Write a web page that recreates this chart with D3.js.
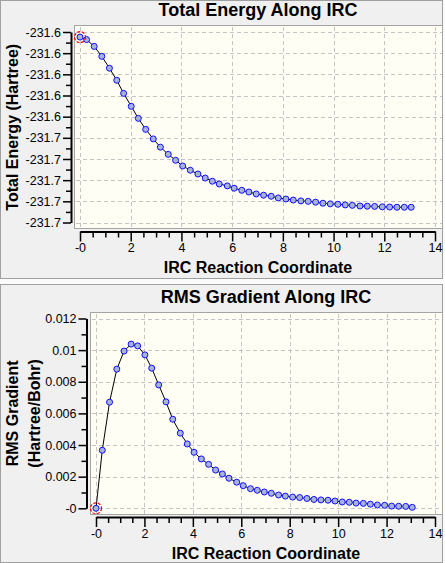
<!DOCTYPE html>
<html>
<head>
<meta charset="utf-8">
<script src="https://cdn.jsdelivr.net/npm/d3@7"></script>
<style>
    html, body { margin: 0; padding: 0; background: #fbfbfb; }
    svg { display: block; font-family: "Liberation Sans", Arial, sans-serif; }
</style>
</head>
<body>
<div id="chart"></div>
<script>
// IRC reaction coordinate of every point (shared by both plots)
const ircCoord = [
    0.00, 0.26, 0.56, 0.86, 1.16, 1.45, 1.72, 2.02, 2.30, 2.59,
    2.89, 3.17, 3.48, 3.77, 4.05, 4.35, 4.65, 4.94, 5.22, 5.49,
    5.81, 6.08, 6.38, 6.66, 6.95, 7.24, 7.54, 7.82, 8.12, 8.41,
    8.71, 9.00, 9.29, 9.58, 9.87, 10.17, 10.46, 10.74, 11.04, 11.33,
    11.62, 11.92, 12.21, 12.50, 12.79, 13.06
];
// Total energy (Hartree)
const totalEnergy = [
    -231.6024, -231.6036, -231.6068, -231.6115, -231.6171, -231.6228, -231.6290, -231.6351, -231.6408, -231.6460,
    -231.6505, -231.6544, -231.6578, -231.6606, -231.6633, -231.6653, -231.6671, -231.6690, -231.6705, -231.6718,
    -231.6727, -231.6738, -231.6748, -231.6756, -231.6765, -231.6771, -231.6776, -231.6784, -231.6789, -231.6794,
    -231.6798, -231.6800, -231.6804, -231.6809, -231.6812, -231.6814, -231.6817, -231.6819, -231.6822, -231.6823,
    -231.6824, -231.6826, -231.6827, -231.6828, -231.6828, -231.6828
];
// RMS gradient (Hartree/Bohr)
const rmsGradient = [
    0.00000, 0.00367, 0.00671, 0.00880, 0.00994, 0.01038, 0.01027, 0.00970, 0.00886, 0.00780,
    0.00673, 0.00563, 0.00475, 0.00407, 0.00354, 0.00312, 0.00278, 0.00242, 0.00217, 0.00190,
    0.00165, 0.00143, 0.00124, 0.00114, 0.00103, 0.00095, 0.00084, 0.00077, 0.00071, 0.00068,
    0.00062, 0.00056, 0.00053, 0.00051, 0.00046, 0.00040, 0.00038, 0.00033, 0.00031, 0.00026,
    0.00021, 0.00019, 0.00014, 0.00013, 0.00012, 0.00006
];

// Tick values and labels
const coordTicks = [0, 2, 4, 6, 8, 10, 12, 14];
const coordTickLabels = ["-0", "2", "4", "6", "8", "10", "12", "14"];
const energyTicks = [-231.60, -231.61, -231.62, -231.63, -231.64, -231.65, -231.66, -231.67, -231.68, -231.69];
const energyTickLabels = ["-231.6", "-231.6", "-231.6", "-231.6", "-231.6", "-231.7", "-231.7", "-231.7", "-231.7", "-231.7"];
const gradientTicks = [0, 0.002, 0.004, 0.006, 0.008, 0.010, 0.012];
const gradientTickLabels = ["-0", "0.002", "0.004", "0.006", "0.008", "0.01", "0.012"];

const ircPlots = (
    function() {

        // Constants
        const width = 445;
        const height = 563;
        const panelBg = "#f0f0f0";
        const plotBg = "#fefef4";
        const gridColor = "#c4c4c4";
        const markerFill = "#a9b3d6";
        const markerStroke = "#1010ff";

        const midpoints = function(ticks) {
            return ticks.slice(1).map((t, i) => (t + ticks[i]) / 2);
        }

        const drawAxisStyle = function(g, lineWidth, tickWidth) {
            g.select(".domain").attr("stroke", "#000").attr("stroke-width", lineWidth);
            g.selectAll(".tick line").attr("stroke", "#000").attr("stroke-width", tickWidth);
            g.selectAll(".tick text")
                .attr("fill", "#000")
                .style("font-size", "12.5px");
        }

        /**
         * Draws one GaussView-like panel: title, plot box, grid,
         * axes and the line of points.
         */
        const drawPanel = function(svg, cfg) {
            const g = svg.append("g");

            // panel background
            g.append("rect")
                .attr("x", 0.5).attr("y", cfg.panel[0] + 0.5)
                .attr("width", 442).attr("height", cfg.panel[1] - cfg.panel[0])
                .attr("fill", panelBg)
                .attr("stroke", "#a0a0a0");

            const box = cfg.box;
            const xScale = d3.scaleLinear()
                .domain([0, 14])
                .range(cfg.xRange);
            const yScale = d3.scaleLinear()
                .domain(cfg.yDomain)
                .range(cfg.yRange);

            // plot box
            g.append("rect")
                .attr("x", box.left + 0.5).attr("y", box.top + 0.5)
                .attr("width", box.right - box.left).attr("height", box.bottom - box.top)
                .attr("fill", plotBg)
                .attr("stroke", "#a4a4a4");

            // grid
            const grid = g.append("g")
                .attr("stroke", gridColor)
                .attr("stroke-width", 1)
                .attr("stroke-dasharray", "4,3");
            grid.selectAll(".vgrid")
                .data(coordTicks)
                .join("line")
                .attr("x1", d => Math.round(xScale(d)) + 0.5)
                .attr("x2", d => Math.round(xScale(d)) + 0.5)
                .attr("y1", box.top + 2)
                .attr("y2", box.bottom);
            grid.selectAll(".hgrid")
                .data(cfg.yTicks)
                .join("line")
                .attr("x1", box.left + 2)
                .attr("x2", box.right)
                .attr("y1", d => Math.round(yScale(d)) + 0.5)
                .attr("y2", d => Math.round(yScale(d)) + 0.5);

            // title
            g.append("text")
                .attr("x", (box.left + box.right) / 2)
                .attr("y", cfg.titleY)
                .attr("text-anchor", "middle")
                .style("font-size", "18px")
                .style("font-weight", "bold")
                .text(cfg.title);

            // x axis (minor, then major)
            g.append("g")
                .attr("transform", `translate(0,${cfg.xAxisY})`)
                .call(d3.axisBottom(xScale)
                    .tickValues(d3.range(0.5, 14, 0.5).filter(v => v % 2 !== 0))
                    .tickSize(6).tickSizeOuter(0).tickFormat(""))
                .call(a => a.select(".domain").remove())
                .call(a => drawAxisStyle(a, 2, 1.5));
            g.append("g")
                .attr("transform", `translate(0,${cfg.xAxisY})`)
                .call(d3.axisBottom(xScale)
                    .tickValues(coordTicks)
                    .tickSize(10).tickSizeOuter(0).tickPadding(2)
                    .tickFormat((d, i) => coordTickLabels[i]))
                .call(a => drawAxisStyle(a, 2, 1.5));

            // y axis (minor, then major)
            g.append("g")
                .attr("transform", `translate(${cfg.yAxisX},0)`)
                .call(d3.axisLeft(yScale)
                    .tickValues(midpoints(cfg.yTicks))
                    .tickSize(5).tickSizeOuter(0).tickFormat(""))
                .call(a => a.select(".domain").remove())
                .call(a => drawAxisStyle(a, 2, 1.5));
            g.append("g")
                .attr("transform", `translate(${cfg.yAxisX},0)`)
                .call(d3.axisLeft(yScale)
                    .tickValues(cfg.yTicks)
                    .tickSize(8).tickSizeOuter(0).tickPadding(2)
                    .tickFormat((d, i) => cfg.yTickLabels[i]))
                .call(a => drawAxisStyle(a, 2, 1.5));

            // x axis title
            g.append("text")
                .attr("x", (box.left + box.right) / 2)
                .attr("y", cfg.xTitleY)
                .attr("text-anchor", "middle")
                .style("font-size", "16px")
                .style("font-weight", "bold")
                .text("IRC Reaction Coordinate");

            // y axis title (one or two lines)
            const yMid = (cfg.yRange[0] + cfg.yRange[1]) / 2;
            cfg.yTitle.forEach((line, i) => {
                g.append("text")
                    .attr("transform", `translate(${cfg.yTitleX[i]},${yMid}) rotate(-90)`)
                    .attr("text-anchor", "middle")
                    .style("font-size", "16px")
                    .style("font-weight", "bold")
                    .text(line);
            });

            // data line
            const points = ircCoord.map((x, i) => ({x: x, y: cfg.values[i]}));
            g.append("path")
                .datum(points)
                .attr("fill", "none")
                .attr("stroke", "#000")
                .attr("stroke-width", 1)
                .attr("d", d3.line()
                    .x(d => xScale(d.x))
                    .y(d => yScale(d.y))
                );
            g.selectAll(".marker")
                .data(points)
                .join("circle")
                .attr("cx", d => xScale(d.x))
                .attr("cy", d => yScale(d.y))
                .attr("r", 3)
                .attr("fill", markerFill)
                .attr("stroke", markerStroke)
                .attr("stroke-width", 1);

            // current point highlight
            g.append("circle")
                .attr("cx", xScale(points[0].x))
                .attr("cy", yScale(points[0].y))
                .attr("r", 5.5)
                .attr("fill", "none")
                .attr("stroke", "#ff0000")
                .attr("stroke-width", 1.2)
                .attr("stroke-dasharray", "3,1.5");
        }

        const render = function() {
            const svg = d3.select("#chart")
                .append("svg")
                .attr("width", width)
                .attr("height", height)
                .attr("viewBox", `0 0 ${width} ${height}`);

            drawPanel(svg, {
                panel: [0, 278],
                box: {left: 74, top: 25, right: 442, bottom: 228},
                xRange: [80, 435],
                xAxisY: 231.5,
                yAxisX: 71,
                yDomain: [energyTicks[energyTicks.length - 1], energyTicks[0]],
                yRange: [222.5, 32],
                yTicks: energyTicks,
                yTickLabels: energyTickLabels,
                values: totalEnergy,
                title: "Total Energy Along IRC",
                titleY: 16,
                xTitleY: 273,
                yTitle: ["Total Energy (Hartree)"],
                yTitleX: [18]
            });

            drawPanel(svg, {
                panel: [284, 562],
                box: {left: 90, top: 312, right: 442, bottom: 514},
                xRange: [96, 435],
                xAxisY: 517,
                yAxisX: 86.5,
                yDomain: [0, 0.012],
                yRange: [508.3, 318.5],
                yTicks: gradientTicks,
                yTickLabels: gradientTickLabels,
                values: rmsGradient,
                title: "RMS Gradient Along IRC",
                titleY: 302.5,
                xTitleY: 559,
                yTitle: ["RMS Gradient", "(Hartree/Bohr)"],
                yTitleX: [18, 40]
            });
        }

        return { render };
    }
)();

ircPlots.render();
</script>
</body>
</html>
